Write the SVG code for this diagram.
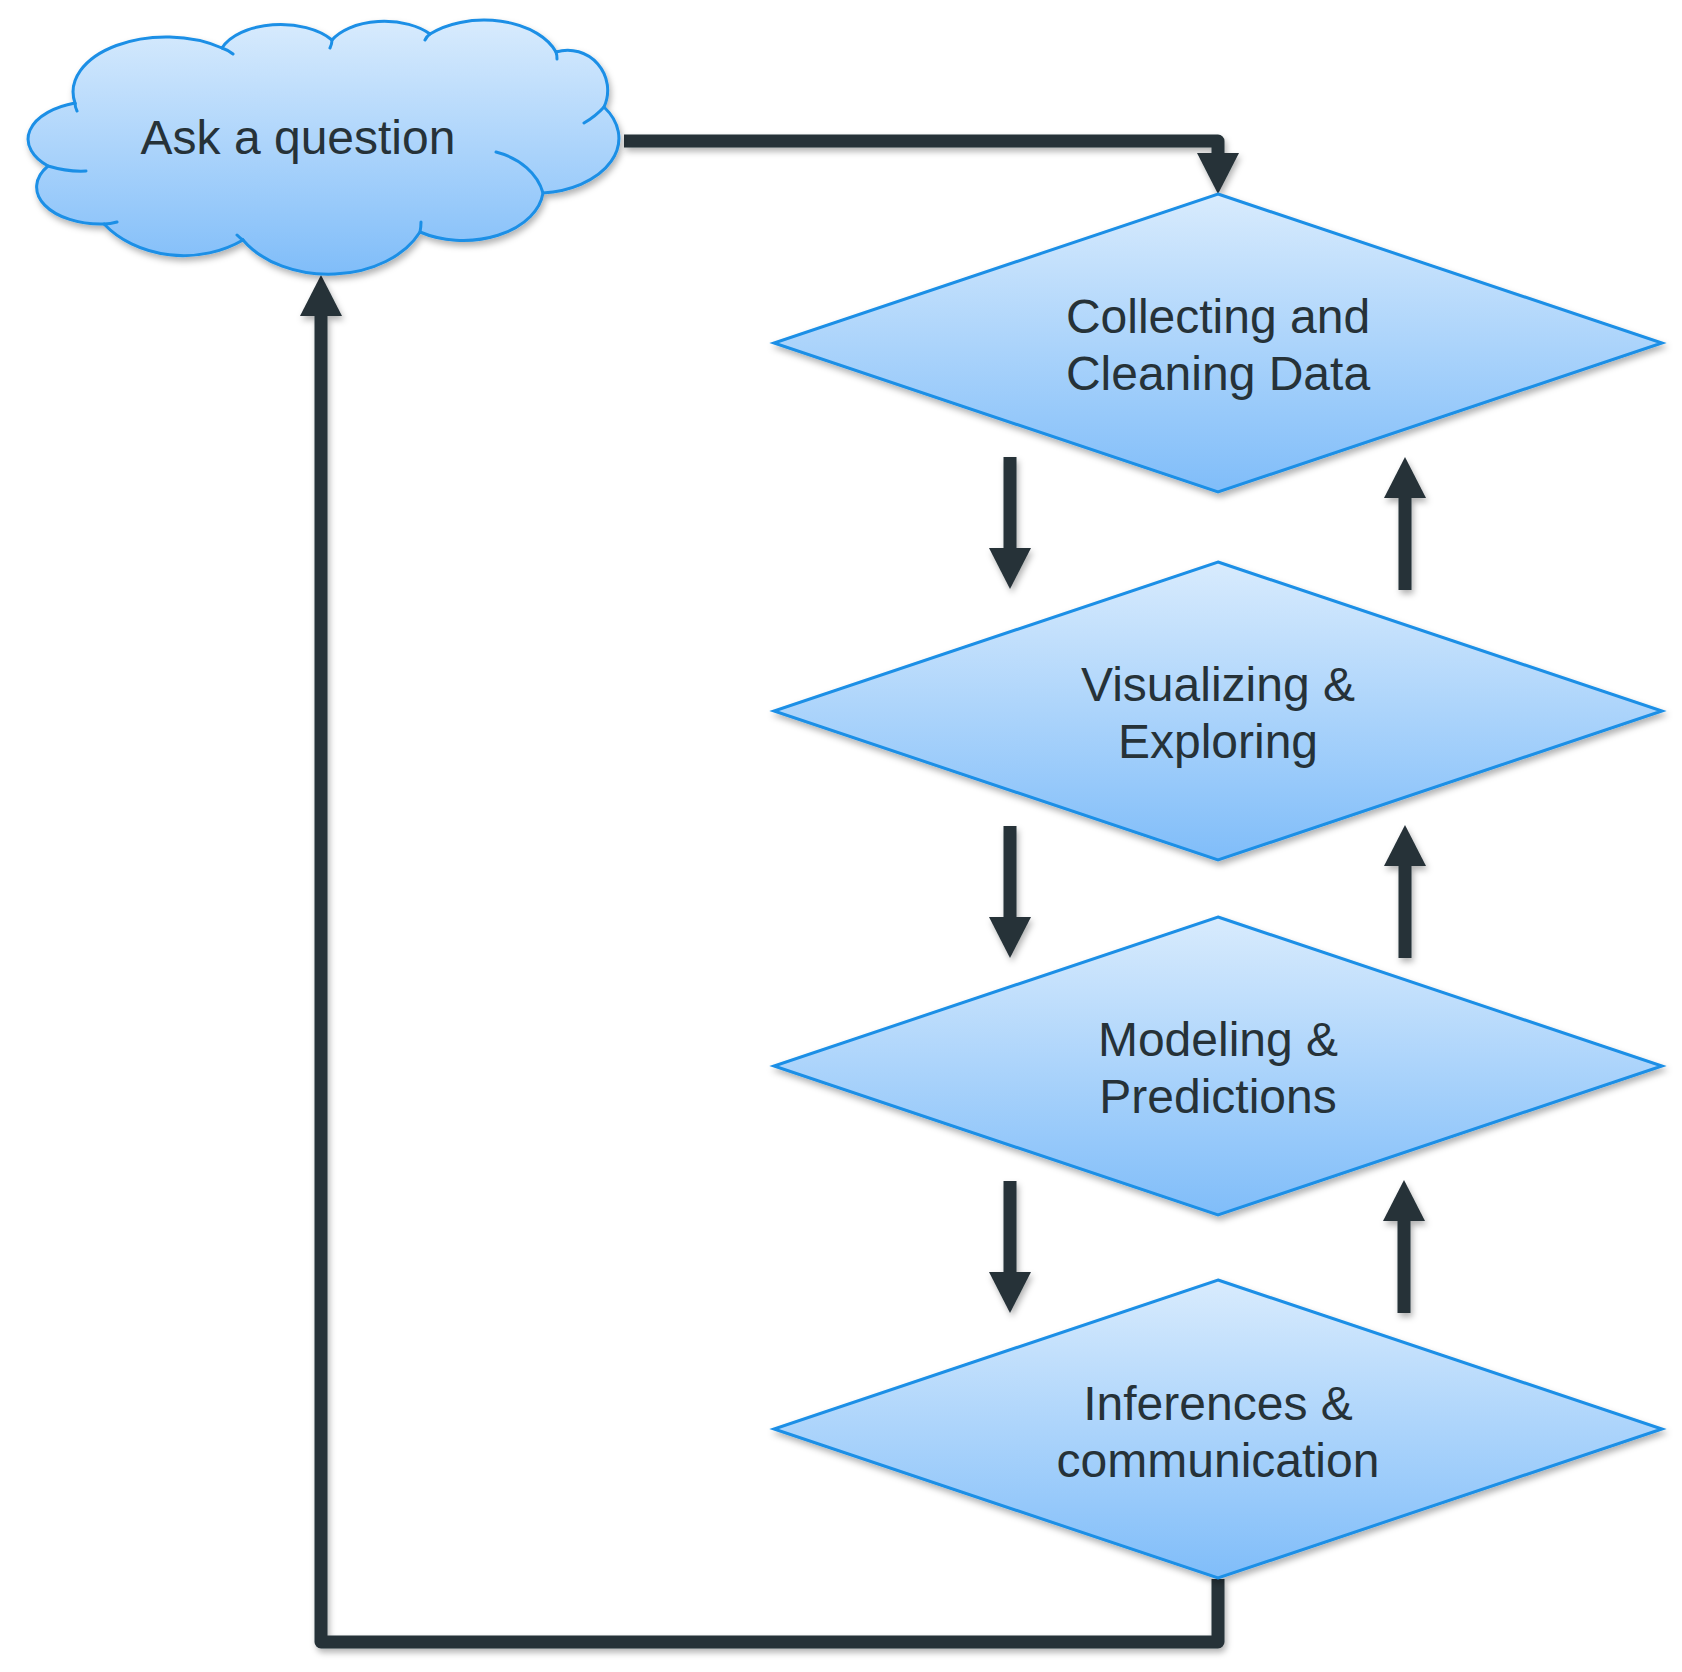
<svg xmlns="http://www.w3.org/2000/svg" width="1682" height="1672" viewBox="0 0 1682 1672">
<defs>
<linearGradient id="blue" x1="0" y1="0" x2="0" y2="1">
<stop offset="0" stop-color="#d8ebfd"/>
<stop offset="1" stop-color="#80bdf9"/>
</linearGradient>
<filter id="sh" x="-10%" y="-10%" width="120%" height="130%">
<feDropShadow dx="2" dy="4" stdDeviation="3" flood-color="#000" flood-opacity="0.3"/>
</filter>
<marker id="head" viewBox="0 0 41 42" markerWidth="41" markerHeight="42" refX="0" refY="21" orient="auto" markerUnits="userSpaceOnUse">
<path d="M0,0 L41,21 L0,42 Z" fill="#263238"/>
</marker>
<style>
.shape{fill:url(#blue);stroke:#1b8fe6;stroke-width:3;stroke-linejoin:miter}
.tick{fill:none;stroke:#1b8fe6;stroke-width:3;stroke-linecap:round}
.lbl{font-family:"Liberation Sans",Arial,Helvetica,sans-serif;font-size:48px;fill:#263238;text-anchor:middle}
.conn{fill:none;stroke:#263238;stroke-width:13;stroke-linejoin:round;marker-end:url(#head)}
</style>
</defs>
<rect width="1682" height="1672" fill="#ffffff"/>

<g id="connectors" filter="url(#sh)">
<path class="conn" d="M 624 141 L 1218 141 L 1218 153"/>
<path class="conn" d="M 1218 1579 L 1218 1642 L 321 1642 L 321 316"/>
<path class="conn" d="M 1010 457 L 1010 548"/>
<path class="conn" d="M 1010 826 L 1010 917"/>
<path class="conn" d="M 1010 1181 L 1010 1272"/>
<path class="conn" d="M 1405 590 L 1405 498"/>
<path class="conn" d="M 1405 958 L 1405 866"/>
<path class="conn" d="M 1404 1313 L 1404 1221"/>
</g>

<g id="ask">
<path class="shape" filter="url(#sh)" d="M 75 103 A 93 55 0 0 1 222 48 A 62 35 0 0 1 332 40 A 58 33 0 0 1 430 34 A 76 47 0 0 1 556 52 A 40 40 0 0 1 604 107 A 84 55 0 0 1 543 193 A 80 53 0 0 1 420 232 A 100 71 0 0 1 243 240 A 100 80 0 0 1 104 224 A 64 37 0 0 1 48 166 A 68 38 0 0 1 75 103 Z"/>
<path class="tick" d="M 75 103 Q 75 107 77 111 M 222 48 Q 228 50 233 54 M 332 40 Q 332 44 330 48 M 430 34 Q 427 36 425 40 M 556 52 Q 557 55 557 59 M 584 123 Q 596 116 604 107 M 496 152 A 70 55 0 0 1 543 193 M 421 222 Q 421 227 420 232 M 243 240 Q 240 238 237 235 M 104 224 Q 110 224 117 222 M 86 171 Q 68 172 48 166"/>
<text class="lbl" x="298" y="154">Ask a question</text>
</g>

<g id="collect">
<polygon class="shape" filter="url(#sh)" points="1218,194 1662,343 1218,492 774,343"/>
<text class="lbl" x="1218" y="333">Collecting and</text>
<text class="lbl" x="1218" y="390">Cleaning Data</text>
</g>

<g id="visualize">
<polygon class="shape" filter="url(#sh)" points="1218,562 1662,711 1218,860 774,711"/>
<text class="lbl" x="1218" y="701">Visualizing &amp;</text>
<text class="lbl" x="1218" y="758">Exploring</text>
</g>

<g id="model">
<polygon class="shape" filter="url(#sh)" points="1218,917 1662,1066 1218,1215 774,1066"/>
<text class="lbl" x="1218" y="1056">Modeling &amp;</text>
<text class="lbl" x="1218" y="1113">Predictions</text>
</g>

<g id="infer">
<polygon class="shape" filter="url(#sh)" points="1218,1280 1662,1429 1218,1578 774,1429"/>
<text class="lbl" x="1218" y="1420">Inferences &amp;</text>
<text class="lbl" x="1218" y="1477">communication</text>
</g>
</svg>
